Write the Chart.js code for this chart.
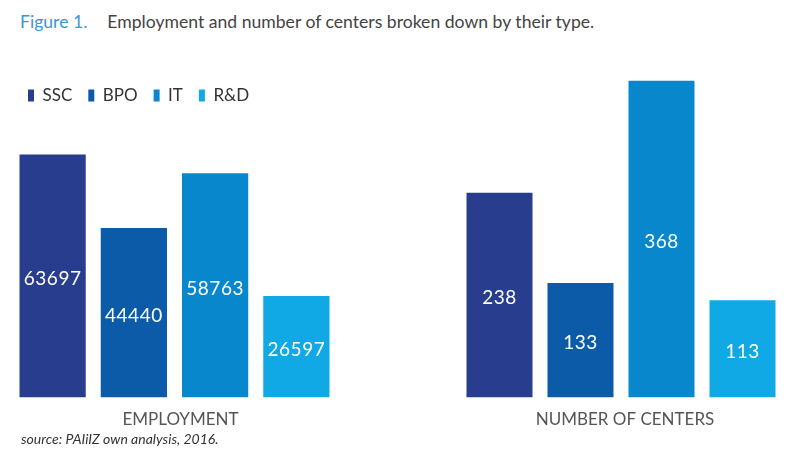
<!DOCTYPE html>
<html>
<head>
<meta charset="utf-8">
<script src="https://cdn.jsdelivr.net/npm/chart.js@4.4.1/dist/chart.umd.min.js"></script>
<style>
  body { margin: 0; background: #fff; font-family: Lato, sans-serif; }
  #page { position: relative; width: 800px; height: 463px; overflow: hidden; }
  .title { position: absolute; left: 20px; top: 11px; font-size: 17.6px; color: #444; white-space: nowrap; }
  .title .fig { color: #3b97d3; margin-right: 20px; }
  .source { position: absolute; left: 21px; top: 430px; font-size: 14px; font-style: italic; color: #333; }
  .box { position: absolute; }
</style>
</head>
<body>
<div id="page">
  <div class="title"><span class="fig">Figure 1.</span>Employment and number of centers broken down by their type.</div>
  <div class="box" style="left:0px; top:71px; width:345px; height:363px;"><canvas id="empChart"></canvas></div>
  <div class="box" style="left:445px; top:60px; width:350px; height:374px;"><canvas id="cntChart"></canvas></div>
  <div class="source">source: PAIiIZ own analysis, 2016.</div>
</div>
<script>
// chart data
const categories = ['SSC', 'BPO', 'IT', 'R&D'];
const employment = [63697, 44440, 58763, 26597];
const centers = [238, 133, 368, 113];
const groupLabels = ['EMPLOYMENT', 'NUMBER OF CENTERS'];
const barColors = ['#283d8d', '#0b5ba9', '#0887cd', '#10a9e6'];

// white numbers in the middle of each bar
const barValuePlugin = {
  id: 'barValues',
  afterDatasetsDraw(chart) {
    const ctx = chart.ctx;
    ctx.save();
    ctx.fillStyle = '#ffffff';
    ctx.font = '19px Lato';
    ctx.letterSpacing = '0.5px';
    ctx.textAlign = 'center';
    ctx.textBaseline = 'middle';
    chart.data.datasets.forEach((ds, i) => {
      chart.getDatasetMeta(i).data.forEach((bar, j) => {
        ctx.fillText(String(ds.data[j]), bar.x, (bar.y + bar.base) / 2 + 3);
      });
    });
    ctx.restore();
  }
};

// leave some room under the legend
const legendGapPlugin = {
  id: 'legendGap',
  beforeInit(chart) {
    if (!chart.legend) return;
    const fit = chart.legend.fit;
    chart.legend.fit = function () {
      fit.bind(chart.legend)();
      this.height += 24;
    };
  }
};

function makeChart(id, groupLabel, values, yMax, showLegend, pad, labelShift) {
  return new Chart(document.getElementById(id), {
    type: 'bar',
    data: {
      labels: [groupLabel],
      datasets: categories.map((c, i) => ({
        label: c,
        data: [values[i]],
        backgroundColor: barColors[i],
        borderWidth: 0
      }))
    },
    options: {
      responsive: true,
      maintainAspectRatio: false,
      animation: false,
      barPercentage: 0.815,
      categoryPercentage: 1,
      layout: { padding: pad },
      plugins: {
        legend: {
          display: showLegend,
          align: 'start',
          labels: {
            color: '#333',
            font: { family: 'Lato', size: 17 },
            boxWidth: 6,
            boxHeight: 12,
            padding: 16
          }
        },
        tooltip: { enabled: false }
      },
      scales: {
        x: {
          grid: { display: false },
          border: { display: false },
          ticks: {
            color: '#555',
            font: { family: 'Lato', size: 17 },
            padding: 4,
            labelOffset: labelShift
          }
        },
        y: {
          display: false,
          min: 0,
          max: yMax
        }
      }
    },
    plugins: showLegend ? [barValuePlugin, legendGapPlugin] : [barValuePlugin]
  });
}

makeChart('empChart', groupLabels[0], employment, 68000, true, { left: 12, right: 8, top: 0, bottom: 0 }, 6);
makeChart('cntChart', groupLabels[1], centers, 370, false, { left: 14, right: 12, top: 19, bottom: 0 }, 4);
</script>
</body>
</html>
